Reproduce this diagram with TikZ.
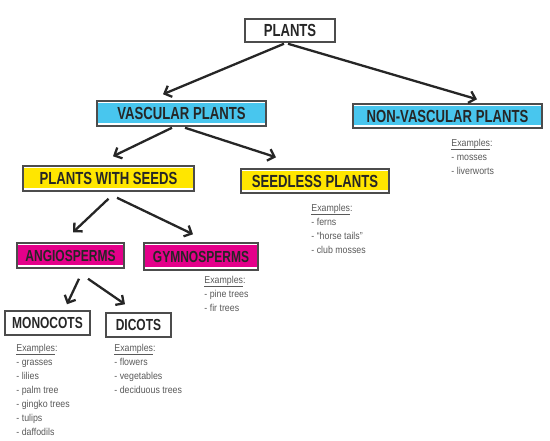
\documentclass[tikz,border=0pt]{standalone}
\usepackage{fontspec}
\usetikzlibrary{arrows.meta, positioning}
\newfontfamily\headfont[FakeStretch=0.75]{Liberation Sans}
\newfontfamily\listfont[FakeStretch=0.88]{Liberation Sans}
\definecolor{vascblue}{RGB}{72,198,238}
\definecolor{seedyellow}{RGB}{255,230,0}
\definecolor{spermpink}{RGB}{228,0,138}
\tikzset{
  box/.style = {draw=black!70, line width=1.5pt, inner sep=0pt, text=black!85,
                font=\headfont\bfseries\fontsize{17.5}{20}\selectfont},
  small box/.style = {font=\headfont\bfseries\fontsize{16}{18}\selectfont},
  marker/.style = {box, path picture={%
      \fill [#1] ([yshift=-2pt] path picture bounding box.north west)
        rectangle ([yshift=3.5pt] path picture bounding box.south east);}},
  link/.style = {line width=2.3pt, black!85,
                 arrows={-Straight Barb[length=6pt, width=12pt]}},
  examples/.style = {align=left, inner sep=0pt, text=black!65,
                     font=\listfont\fontsize{10}{14}\selectfont},
}
\newcommand{\examplelist}[1]{\underline{Examples}:\\#1}

\begin{document}
\begin{tikzpicture}[x=1pt, y=-1pt]
  \useasboundingbox (0,0) rectangle (550,440);

  %% The classification boxes
  \node [box, minimum width=90pt, minimum height=23pt] (plants) at (290,30.5) {PLANTS};
  \node [marker=vascblue, minimum width=169pt, minimum height=25pt] (vascular) at (181.5,113.5) {VASCULAR PLANTS};
  \node [marker=vascblue, minimum width=189pt, minimum height=24pt] (nonvascular) at (447.5,116) {NON-VASCULAR PLANTS};
  \node [marker=seedyellow, minimum width=171pt, minimum height=25pt] (seeds) at (108.5,178.5) {PLANTS WITH SEEDS};
  \node [marker=seedyellow, minimum width=148pt, minimum height=24pt] (seedless) at (315,181) {SEEDLESS PLANTS};
  \node [marker=spermpink, small box, minimum width=107pt, minimum height=25pt] (angio) at (70.5,255.5) {ANGIOSPERMS};
  \node [marker=spermpink, small box, minimum width=114pt, minimum height=27pt] (gymno) at (201,256.5) {GYMNOSPERMS};
  \node [box, small box, minimum width=85pt, minimum height=24pt] (monocots) at (47.5,323) {MONOCOTS};
  \node [box, small box, minimum width=65pt, minimum height=24pt] (dicots) at (138.5,325) {DICOTS};

  %% Branches of the tree
  \draw [link] ([xshift=-6pt, yshift=-1pt] plants.south) -- ([xshift=-18.5pt, yshift=6pt] vascular.north);
  \draw [link] ([xshift=-2pt, yshift=-1pt] plants.south) -- ([xshift=29.5pt, yshift=4pt] nonvascular.north);
  \draw [link] ([xshift=-9.5pt, yshift=-1pt] vascular.south) -- ([xshift=4.5pt, yshift=9pt] seeds.north);
  \draw [link] ([xshift=3.5pt, yshift=-1pt] vascular.south) -- ([xshift=-39pt, yshift=11pt] seedless.north);
  \draw [link] ([xshift=0pt, yshift=-7pt] seeds.south) -- ([xshift=2.5pt, yshift=10pt] angio.north);
  \draw [link] ([xshift=8.5pt, yshift=-6pt] seeds.south) -- ([xshift=-8pt, yshift=8pt] gymno.north);
  \draw [link] ([xshift=8.5pt, yshift=-10pt] angio.south) -- ([xshift=19.5pt, yshift=6pt] monocots.north);
  \draw [link] ([xshift=17.5pt, yshift=-10pt] angio.south) -- ([xshift=-13.5pt, yshift=8pt] dicots.north);

  %% Example lists under the boxes
  \node [examples, below right=10pt and 99pt of nonvascular.south west] (nonvascular_ex)
        {\examplelist{- mosses\\- liverworts}};
  \node [examples, below right=10pt and 71pt of seedless.south west] (seedless_ex)
        {\examplelist{- ferns\\- “horse tails”\\- club mosses}};
  \node [examples, below right=5pt and 61pt of gymno.south west] (gymno_ex)
        {\examplelist{- pine trees\\- fir trees}};
  \node [examples, below right=8pt and 12pt of monocots.south west] (monocots_ex)
        {\examplelist{- grasses\\- lilies\\- palm tree\\- gingko trees\\- tulips\\- daffodils}};
  \node [examples, below right=6pt and 9pt of dicots.south west] (dicots_ex)
        {\examplelist{- flowers\\- vegetables\\- deciduous trees}};
\end{tikzpicture}
\end{document}
